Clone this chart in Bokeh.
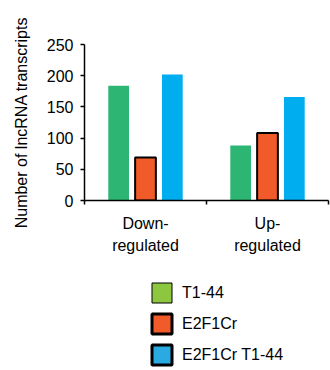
from bokeh.plotting import figure
from bokeh.layouts import column
from bokeh.models import (ColumnDataSource, Range1d, FixedTicker, Legend, LegendItem)
from bokeh.embed import file_html
from bokeh.resources import INLINE

categories = ["Down-\nregulated", "Up-\nregulated"]
series = ["T1-44", "E2F1Cr", "E2F1Cr T1-44"]
t1_44 = [184, 88]
e2f1cr = [69, 108]
e2f1cr_t1_44 = [202, 166]
y_ticks = [0, 50, 100, 150, 200, 250]

bar_colors = ["#2DB673", "#F15A29", "#00AEEF"]
legend_colors = ["#8DC63F", "#F15A29", "#29ABE2"]
FONT = "Liberation Sans"

p = figure(width=330, height=262, output_backend="svg", toolbar_location=None,
           x_range=Range1d(0, len(categories)), y_range=Range1d(0, 250),
           min_border_left=84, min_border_right=2, min_border_top=44,
           min_border_bottom=62)
p.outline_line_color = None
p.xgrid.visible = False
p.ygrid.visible = False

centers = [i + 0.5 for i in range(len(categories))]
offsets = [-0.22, 0.0, 0.22]
values = [t1_44, e2f1cr, e2f1cr_t1_44]
width = 0.17
for k, vals in enumerate(values):
    src = ColumnDataSource(dict(x=[c + offsets[k] for c in centers], top=vals))
    if k == 1:
        p.vbar(x="x", top="top", width=width, bottom=0, source=src,
               fill_color=bar_colors[k], line_color="black", line_width=2)
    else:
        p.vbar(x="x", top="top", width=width, bottom=0, source=src,
               fill_color=bar_colors[k], line_color=None)

# y axis
ya = p.yaxis[0]
ya.ticker = FixedTicker(ticks=y_ticks)
ya.minor_tick_line_color = None
ya.major_tick_in = 0
ya.major_tick_out = 4
ya.axis_line_width = 1.5
ya.major_tick_line_width = 1.5
ya.major_label_text_font = FONT
ya.major_label_text_font_size = "16px"
ya.major_label_text_color = "black"
ya.major_label_standoff = 7
ya.axis_label = "Number of lncRNA transcripts"
ya.axis_label_text_font = FONT
ya.axis_label_text_font_size = "16px"
ya.axis_label_text_font_style = "normal"
ya.axis_label_text_color = "black"
ya.axis_label_standoff = 14

# x axis
xa = p.xaxis[0]
xa.ticker = FixedTicker(ticks=centers, minor_ticks=list(range(len(categories) + 1)))
xa.major_label_overrides = {c: lab for c, lab in zip(centers, categories)}
xa.major_tick_in = 0
xa.major_tick_out = 0
xa.minor_tick_in = 0
xa.minor_tick_out = 4
xa.minor_tick_line_width = 1.5
xa.axis_line_width = 1.5
xa.major_label_text_font = FONT
xa.major_label_text_font_size = "16px"
xa.major_label_text_color = "black"
xa.major_label_text_line_height = 1.35
xa.major_label_standoff = 10

# legend figure with its own colours
lf = figure(width=330, height=108, output_backend="svg", toolbar_location=None,
            x_range=Range1d(0, 1), y_range=Range1d(0, 1),
            min_border_left=84, min_border_right=2, min_border_top=0,
            min_border_bottom=0)
lf.axis.visible = False
lf.grid.visible = False
lf.outline_line_color = None

items = []
for k, name in enumerate(series):
    r = lf.vbar(x=[0.5], top=[1], width=0.1, fill_color=legend_colors[k],
                line_color="black", line_width=1 if k == 0 else 3)
    r.visible = False
    items.append(LegendItem(label=name, renderers=[r]))

legend = Legend(items=items, location=(65, 3), orientation="vertical",
                glyph_width=25, glyph_height=25, label_height=25,
                spacing=6, padding=0, margin=0, label_standoff=8,
                border_line_color=None, background_fill_alpha=0,
                inactive_fill_alpha=0,
                label_text_font=FONT, label_text_font_size="16px",
                label_text_color="black")
lf.add_layout(legend, "center")

open("out.html", "w").write(file_html(column(p, lf, spacing=0), INLINE))
